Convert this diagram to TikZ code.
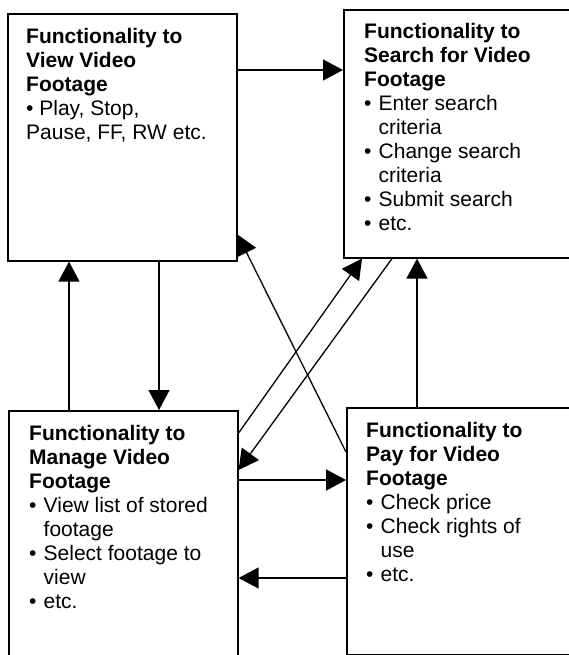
\documentclass[tikz,border=0pt]{standalone}
\usepackage{fontspec}
\setmainfont{Liberation Sans}
\usetikzlibrary{arrows.meta}
\newcommand{\bul}{\makebox[14.5pt][l]{•}}
\newcommand{\ind}{\hspace*{14.5pt}}
\begin{document}
\begin{tikzpicture}[x=1pt,y=-1pt,
  box/.style={draw=black, line width=1.6pt, rectangle, inner sep=0pt, anchor=north west, fill=white},
  txt/.style={anchor=north west, inner sep=0pt, align=left, font=\fontsize{21}{24}\selectfont},
  arr/.style={draw=black, line width=1.3pt, -{Triangle[length=20pt,width=21pt]}}]
\path[use as bounding box] (0,0) rectangle (569,655);
\clip (0,0) rectangle (569,655);
% boxes
\node[box, minimum width=229pt, minimum height=247pt] (A) at (7,13) {};
\node[box, minimum width=260pt, minimum height=248pt] (B) at (343,9) {};
\node[box, minimum width=229pt, minimum height=300pt] (C) at (8,410) {};
\node[box, minimum width=260pt, minimum height=247pt] (D) at (346,407) {};
% texts
\node[txt] (tA) at ([xshift=19pt,yshift=-15pt]A.north west)
 {\textbf{Functionality to}\\ \textbf{View Video}\\ \textbf{Footage}\\ • Play, Stop,\\ Pause, FF, RW etc.};
\node[txt] (tB) at ([xshift=21pt,yshift=-14pt]B.north west)
 {\textbf{Functionality to}\\ \textbf{Search for Video}\\ \textbf{Footage}\\ \bul Enter search\\ \ind criteria\\ \bul Change search\\ \ind criteria\\ \bul Submit search\\ \bul etc.};
\node[txt] (tC) at ([xshift=21pt,yshift=-15pt]C.north west)
 {\textbf{Functionality to}\\ \textbf{Manage Video}\\ \textbf{Footage}\\ \bul View list of stored\\ \ind footage\\ \bul Select footage to\\ \ind view\\ \bul etc.};
\node[txt] (tD) at ([xshift=20pt,yshift=-15pt]D.north west)
 {\textbf{Functionality to}\\ \textbf{Pay for Video}\\ \textbf{Footage}\\ \bul Check price\\ \bul Check rights of\\ \ind use\\ \bul etc.};
% connectors
\draw[arr] ([yshift=-57pt]A.north east) coordinate (a1) -- (a1 -| B.west);
\draw[arr] ([xshift=61pt]C.north west) coordinate (c1) -- (c1 |- A.south);
\draw[arr] ([xshift=152pt]A.south west) coordinate (a2) -- (a2 |- C.north);
\draw[arr] ([xshift=71pt]D.north west) coordinate (d1) -- (d1 |- B.south);
\draw[arr] ([yshift=-70pt]C.north east) coordinate (c2) -- (c2 -| D.west);
\draw[arr] ([yshift=-171pt]D.north west) coordinate (d2) -- (d2 -| C.east);
\draw[arr] ([yshift=-23pt]C.north east) -- ([xshift=19pt]B.south west);
\draw[arr] ([xshift=49pt]B.south west) -- ([yshift=-60pt]C.north east);
\draw[arr] ([yshift=-45pt]D.north west) -- ([yshift=27pt]A.south east);
\end{tikzpicture}
\end{document}
